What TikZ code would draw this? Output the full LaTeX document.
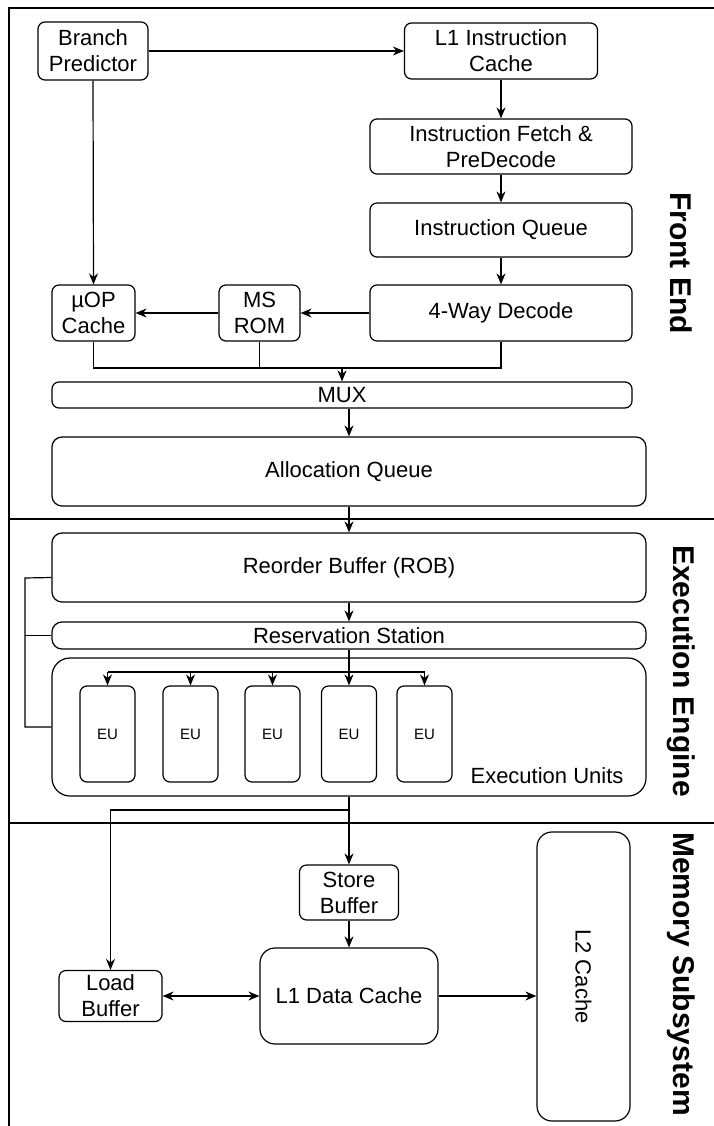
\documentclass[tikz,border=0pt]{standalone}
\usepackage{fontspec}
\setmainfont{Liberation Sans}
\usetikzlibrary{arrows.meta}
\tikzstyle{blk} = [draw,rounded corners=7pt,align=center,inner sep=0pt,font=\fontsize{22}{26}\selectfont]
\tikzstyle{wide} = [blk,rounded corners=10pt,minimum width=594pt]
\tikzstyle{eubox} = [blk,minimum width=55pt,minimum height=96pt,font=\fontsize{15}{18}\selectfont]
\tikzstyle{sect} = [rotate=-90,inner sep=0pt,font=\fontsize{30}{36}\selectfont\bfseries]
\tikzset{>={Stealth[length=11pt,width=9pt]}}

\begin{document}
\begin{tikzpicture}[x=1pt,y=-1pt,line width=1.2pt]
    \useasboundingbox (0,0) rectangle (714,1126);
    % section frame
    \draw (714,8) -- (9,8) -- (9,1126);
    \draw (9,519) -- (714,519);
    \draw (9,823) -- (714,823);
    \node [sect] (fe) at (681,263) {Front End};
    \node [sect] (ee) at (681,671) {Execution Engine};
    \node [sect] (ms) at (681,974) {Memory Subsystem};
    % front end
    \node [blk,minimum width=110pt,minimum height=58pt] (bp) at (93,51) {Branch\\Predictor};
    \node [blk,minimum width=193pt,minimum height=56pt] (l1i) at (501,51) {L1 Instruction\\Cache};
    \node [blk,minimum width=262pt,minimum height=55pt] (ifd) at (501,146.5) {Instruction Fetch \&\\PreDecode};
    \node [blk,minimum width=262pt,minimum height=54pt] (iq) at (501,230) {Instruction Queue};
    \node [blk,minimum width=262pt,minimum height=56pt] (dec) at (501,313) {4-Way Decode};
    \node [blk,minimum width=81pt,minimum height=56pt] (msrom) at (259.5,313) {MS\\ROM};
    \node [blk,minimum width=83pt,minimum height=56pt] (uop) at (93.5,313) {µOP\\Cache};
    \node [blk,minimum width=580pt,minimum height=26pt] (mux) at (342,395) {MUX};
    \node [wide,minimum height=69pt] (alloc) at (349,471.5) {Allocation Queue};
    \draw [->] (bp.east) -- (l1i.west);
    \draw [->] (l1i) -- (ifd);
    \draw [->] (ifd) -- (iq);
    \draw [->] (iq) -- (dec);
    \draw [->] (bp.south) -- (uop.north);
    \draw [->] (dec.west) -- (msrom.east);
    \draw [->] (msrom.west) -- (uop.east);
    \coordinate (mj) at (342,368);
    \draw (uop.south) |- (mj) -| (dec.south);
    \draw (msrom.south) -- (msrom.south |- mj);
    \draw [->] (mj) -- (mux.north);
    \draw [->] (mux.south -| alloc.north) -- (alloc.north);
    % execution engine
    \node [wide,minimum height=69pt] (rob) at (349,567.5) {Reorder Buffer (ROB)};
    \node [wide,minimum height=27pt] (rs) at (349,635.5) {Reservation Station};
    \node [draw,rounded corners=18pt,minimum width=594pt,minimum height=138pt] (eus) at (349,727) {};
    \node [font=\fontsize{22}{26}\selectfont] (eul) at (547,776) {Execution Units};
    \foreach \i/\x in {1/107.5,2/190.5,3/272.5,4/349,5/424.5}
      \node [eubox] (eu\i) at (\x,734) {EU};
    \draw [->] (alloc.south) -- (rob.north);
    \draw [->] (rob) -- (rs);
    \coordinate (fb) at (25,578);
    \draw ([yshift=-10pt]rob.west) -- (fb) |- (eus.west);
    \draw (rs.west) -- (rs.west -| fb);
    \coordinate (dj) at (349,672);
    \draw (rs.south) -- (dj);
    \draw (eu1.north |- dj) -- (eu5.north |- dj);
    \foreach \i in {1,...,5}
      \draw [->] (eu\i.north |- dj) -- (eu\i.north);
    % memory subsystem
    \node [blk,minimum width=99pt,minimum height=55pt] (sb) at (349,892.5) {Store\\Buffer};
    \node [blk,rounded corners=15pt,minimum width=178pt,minimum height=96pt] (l1d) at (349,996) {L1 Data Cache};
    \node [blk,minimum width=103pt,minimum height=51pt] (lb) at (110.5,996) {Load\\Buffer};
    \node [blk,rounded corners=15pt,minimum width=93pt,minimum height=289pt] (l2) at (583.5,976.5) {};
    \node [rotate=-90,font=\fontsize{22}{26}\selectfont] (l2t) at (l2.center) {L2 Cache};
    \coordinate (mj2) at (349,810);
    \draw (eus.south) -- (mj2);
    \draw [->] (mj2) -- (sb.north);
    \draw [->] (mj2) -| (lb.north);
    \draw [->] (sb) -- (l1d);
    \draw [<->] (lb.east) -- (l1d.west);
    \draw [->] (l1d.east) -- (l1d.east -| l2.west);
\end{tikzpicture}
\end{document}
